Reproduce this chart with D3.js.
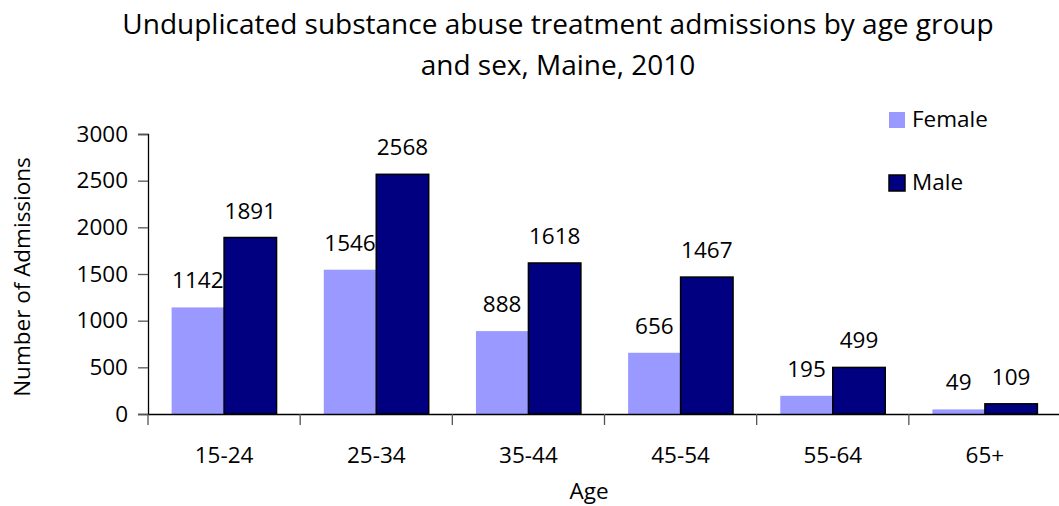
<!DOCTYPE html>
<html>
<head>
<meta charset="utf-8">
<script src="https://cdn.jsdelivr.net/npm/d3@7"></script>
<style>
  body { margin: 0; background: #fff; }
  text { font-family: "Open Sans", "Noto Sans", sans-serif; fill: #000; }
</style>
</head>
<body>
<script>
'use strict';

// chart data
const ageGroups = ["15-24", "25-34", "35-44", "45-54", "55-64", "65+"];
const femaleValues = [1142, 1546, 888, 656, 195, 49];
const maleValues = [1891, 2568, 1618, 1467, 499, 109];
const seriesNames = ["Female", "Male"];
const yTicks = [0, 500, 1000, 1500, 2000, 2500, 3000];

const width = 1059, height = 506;
const colors = { Female: "#9999ff", Male: "#000080" };
const fontSize = "22.5px";

const svg = d3.select("body").append("svg")
  .attr("width", width)
  .attr("height", height);

// scales
const x = d3.scaleBand()
  .domain(ageGroups)
  .range([148, 1061])
  .paddingInner(0)
  .paddingOuter(0);

const xInner = d3.scaleBand()
  .domain(seriesNames)
  .range([0, x.bandwidth()])
  .paddingOuter(0.45)
  .paddingInner(0);

const y = d3.scaleLinear()
  .domain([0, 3000])
  .range([414, 134]);

// y axis
const yAxis = svg.append("g")
  .attr("transform", "translate(148,0)")
  .call(d3.axisLeft(y).tickValues(yTicks).tickSize(10).tickPadding(10).tickFormat(d3.format("d")));
yAxis.select(".domain").attr("stroke", "#000").attr("stroke-width", 1.3);
yAxis.selectAll(".tick line").attr("stroke", "#555").attr("stroke-width", 1.3);
yAxis.selectAll("text").style("font-size", fontSize).attr("fill", "#000");

// bars
const rows = ageGroups.map((g, i) => ({ group: g, Female: femaleValues[i], Male: maleValues[i] }));

const groups = svg.selectAll(".group")
  .data(rows)
  .enter()
  .append("g")
    .attr("transform", (d) => `translate(${x(d.group)},0)`);

groups.selectAll("rect")
  .data((d) => seriesNames.map((s) => ({ key: s, value: d[s] })))
  .enter()
  .append("rect")
    .attr("x", (d) => xInner(d.key))
    .attr("y", (d) => y(d.value))
    .attr("width", xInner.bandwidth())
    .attr("height", (d) => y(0) - y(d.value))
    .attr("fill", (d) => colors[d.key])
    .attr("stroke", (d) => d.key === "Male" ? "#000" : "none")
    .attr("stroke-width", 1.5);

groups.selectAll(".val")
  .data((d) => seriesNames.map((s) => ({ key: s, value: d[s] })))
  .enter()
  .append("text")
    .attr("x", (d) => xInner(d.key) + xInner.bandwidth() / 2)
    .attr("y", (d) => y(d.value) - 19)
    .attr("text-anchor", "middle")
    .style("font-size", fontSize)
    .text((d) => d.value);

// x axis
const xAxis = svg.append("g")
  .attr("transform", "translate(0,414)")
  .call(d3.axisBottom(x).tickSize(0).tickPadding(33));
xAxis.select(".domain").attr("stroke", "#000").attr("stroke-width", 1.3);
xAxis.selectAll("text").style("font-size", fontSize).attr("fill", "#000");

// category separator ticks
svg.append("g").selectAll("line")
  .data(ageGroups)
  .enter()
  .append("line")
    .attr("x1", (d) => x(d))
    .attr("x2", (d) => x(d))
    .attr("y1", 414)
    .attr("y2", 425)
    .attr("stroke", "#555")
    .attr("stroke-width", 1.3);

// labels
svg.append("text")
  .attr("x", 558)
  .attr("y", 34)
  .attr("text-anchor", "middle")
  .style("font-size", "28px")
  .text("Unduplicated substance abuse treatment admissions by age group");

svg.append("text")
  .attr("x", 558)
  .attr("y", 75)
  .attr("text-anchor", "middle")
  .style("font-size", "28px")
  .text("and sex, Maine, 2010");

svg.append("text")
  .attr("x", 589)
  .attr("y", 499)
  .attr("text-anchor", "middle")
  .style("font-size", fontSize)
  .text("Age");

svg.append("text")
  .attr("transform", "translate(30,277)rotate(-90)")
  .attr("text-anchor", "middle")
  .style("font-size", fontSize)
  .text("Number of Admissions");

// legend
const legend = svg.append("g").selectAll("g")
  .data(seriesNames)
  .enter()
  .append("g")
    .attr("transform", (d, i) => `translate(889,${112 + i * 63})`);

legend.append("rect")
  .attr("width", 16)
  .attr("height", 16)
  .attr("fill", (d) => colors[d])
  .attr("stroke", (d) => d === "Male" ? "#000" : "none")
  .attr("stroke-width", 1.5);

legend.append("text")
  .attr("x", 23)
  .attr("y", 15)
  .style("font-size", fontSize)
  .text((d) => d);
</script>
</body>
</html>
